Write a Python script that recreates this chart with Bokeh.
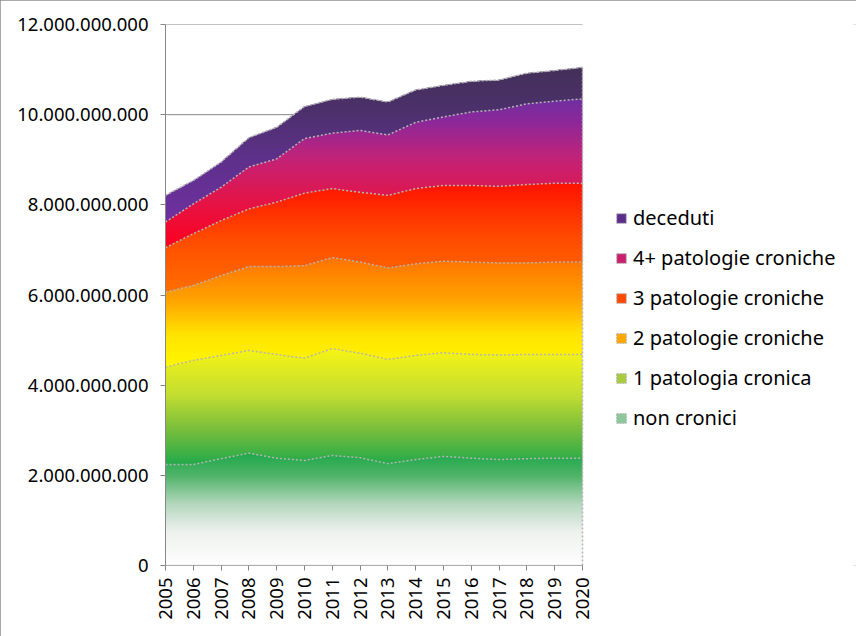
import numpy as np
from bokeh.plotting import figure
from bokeh.models import (Range1d, FixedTicker, CustomJSTickFormatter, Legend, LegendItem)
from bokeh.embed import file_html
from bokeh.resources import INLINE

# ---------------- data ----------------
years = [2005, 2006, 2007, 2008, 2009, 2010, 2011, 2012, 2013, 2014, 2015, 2016, 2017, 2018, 2019, 2020]

non_cronici = [2.24e9, 2.24e9, 2.37e9, 2.49e9, 2.38e9, 2.33e9, 2.44e9, 2.39e9,
               2.26e9, 2.35e9, 2.42e9, 2.38e9, 2.35e9, 2.37e9, 2.38e9, 2.38e9]
patologia_1 = [2.16e9, 2.31e9, 2.29e9, 2.28e9, 2.30e9, 2.27e9, 2.37e9, 2.32e9,
               2.31e9, 2.31e9, 2.30e9, 2.30e9, 2.32e9, 2.31e9, 2.30e9, 2.30e9]
patologie_2 = [1.66e9, 1.66e9, 1.77e9, 1.86e9, 1.95e9, 2.05e9, 2.02e9, 2.02e9,
               2.03e9, 2.03e9, 2.03e9, 2.05e9, 2.04e9, 2.03e9, 2.05e9, 2.05e9]
patologie_3 = [0.99e9, 1.15e9, 1.22e9, 1.28e9, 1.43e9, 1.61e9, 1.53e9, 1.55e9,
               1.61e9, 1.67e9, 1.68e9, 1.70e9, 1.70e9, 1.74e9, 1.75e9, 1.75e9]
patologie_4 = [0.57e9, 0.66e9, 0.74e9, 0.93e9, 0.96e9, 1.21e9, 1.23e9, 1.37e9,
               1.34e9, 1.47e9, 1.52e9, 1.63e9, 1.70e9, 1.79e9, 1.82e9, 1.87e9]
deceduti = [0.59e9, 0.52e9, 0.56e9, 0.65e9, 0.70e9, 0.71e9, 0.75e9, 0.74e9,
            0.73e9, 0.72e9, 0.70e9, 0.68e9, 0.66e9, 0.68e9, 0.68e9, 0.70e9]

series_names = ["non cronici", "1 patologia cronica", "2 patologie croniche",
                "3 patologie croniche", "4+ patologie croniche", "deceduti"]
y_ticks = [0, 2e9, 4e9, 6e9, 8e9, 10e9, 12e9]

# gradient stops (t from bottom to top of each series' bounding box)
gradients = [
    [(0.0, (255, 255, 255)), (0.3, (238, 242, 239)), (0.55, (180, 215, 190)), (0.8, (80, 180, 105)), (1.0, (30, 168, 75))],
    [(0.0, (34, 170, 75)), (0.3, (120, 190, 60)), (0.6, (195, 222, 50)), (1.0, (248, 245, 20))],
    [(0.0, (255, 248, 0)), (0.3, (255, 228, 0)), (0.6, (255, 165, 0)), (1.0, (255, 115, 0))],
    [(0.0, (255, 112, 0)), (0.5, (255, 75, 0)), (1.0, (255, 20, 0))],
    [(0.0, (255, 0, 30)), (0.3, (230, 20, 70)), (0.6, (195, 35, 120)), (0.85, (140, 40, 155)), (1.0, (112, 48, 160))],
    [(0.0, (112, 48, 160)), (0.4, (95, 48, 140)), (0.75, (75, 48, 105)), (1.0, (68, 48, 90))],
]
legend_colors = ["#8cc89c", "#a8cc40", "#ffa800", "#ff4a00", "#c8206c", "#5c2e8c"]

# ---------------- stacking ----------------
layers = np.array([non_cronici, patologia_1, patologie_2, patologie_3, patologie_4, deceduti])
upper = np.cumsum(layers, axis=0)
lower = np.vstack([np.zeros(len(years)), upper[:-1]])

# ---------------- gradient image ----------------
x0, x1 = years[0], years[-1]
y_max = y_ticks[-1]
nx, ny = 417, 541
xs = x0 + (np.arange(nx) + 0.5) * (x1 - x0) / nx
ys = (np.arange(ny) + 0.5) * y_max / ny
cum = np.array([np.interp(xs, years, u) for u in upper])  # (6, nx)
Y = ys[:, None]
layer_idx = np.zeros((ny, nx), dtype=int)
for k in range(len(upper)):
    layer_idx += (Y >= cum[k][None, :]).astype(int)

rgba = np.zeros((ny, nx, 4), dtype=np.uint8)
for k in range(len(upper)):
    bmin = lower[k].min()
    bmax = upper[k].max()
    t = np.clip((Y - bmin) / (bmax - bmin), 0, 1) * np.ones((1, nx))
    mask = layer_idx == k
    stops = gradients[k]
    ts = [s[0] for s in stops]
    for c in range(3):
        vals = [s[1][c] for s in stops]
        ch = np.interp(t, ts, vals)
        rgba[..., c][mask] = ch[mask].astype(np.uint8)
    rgba[..., 3][mask] = 255
img = rgba.view(dtype=np.uint32).reshape(ny, nx)

# ---------------- figure ----------------
# plot area spans 417 px for the 15 years; the frame continues to the right edge
# (691 px) to host the legend, so the x range is widened in the same proportion
FONT = "Noto Sans"
x_end = x0 + (x1 - x0) * 691 / 417
p = figure(width=856, height=636, x_range=Range1d(x0, x_end), y_range=Range1d(0, y_max),
           output_backend="svg", toolbar_location=None,
           min_border_left=165, min_border_right=0, min_border_top=24, min_border_bottom=71)
p.styles = {"outline": "3px solid #8c8c8c", "outline-offset": "-3px"}
p.outline_line_color = None
p.background_fill_color = "white"
p.border_fill_color = "white"

# horizontal gridlines limited to the data span (drawn first, hidden under the areas)
p.xgrid.grid_line_color = None
p.ygrid.grid_line_color = None
p.segment(x0=[x0] * len(y_ticks), y0=y_ticks, x1=[x1] * len(y_ticks), y1=y_ticks,
          line_color="#868686", line_width=1)

p.image_rgba(image=[img], x=x0, y=0, dw=x1 - x0, dh=y_max)

p.line([x0, x1], [0, 0], line_color="#868686", line_width=1)
LINE = dict(line_color="#b4b4b4", line_width=1.5, line_dash="2 2")
for k in range(len(upper)):
    p.line(years, upper[k], **LINE)
p.line(years, [0] * len(years), **LINE)
p.line([years[-1], years[-1]], [0, upper[-1][-1]], **LINE)

# axes
p.yaxis.ticker = FixedTicker(ticks=y_ticks)
p.yaxis.formatter = CustomJSTickFormatter(code="""
    return Math.round(tick).toString().replace(/\\B(?=(\\d{3})+(?!\\d))/g, ".");
""")
p.xaxis.ticker = FixedTicker(ticks=years)
p.xaxis.major_label_orientation = np.pi / 2
p.xaxis.axis_line_color = None
p.yaxis.axis_line_color = "#868686"
for ax in (p.xaxis[0], p.yaxis[0]):
    ax.major_tick_line_color = "#868686"
    ax.minor_tick_line_color = None
    ax.major_tick_in = 0
    ax.major_tick_out = 5
    ax.major_label_text_font = FONT
    ax.major_label_text_font_size = "18.5px"
    ax.major_label_text_color = "black"
p.yaxis.major_label_standoff = 12
p.xaxis.major_label_standoff = 7

# legend (proxy renderers with no visible data)
items = []
for k in reversed(range(len(upper))):
    r = p.quad(left=[np.nan], right=[np.nan], top=[np.nan], bottom=[np.nan],
               fill_color=legend_colors[k], line_color="#b4b4b4", line_dash="2 1", line_width=1)
    items.append(LegendItem(label=series_names[k], renderers=[r]))
legend = Legend(items=items, location=(450, 134), orientation="vertical",
                glyph_width=12, glyph_height=12, label_height=20, spacing=13,
                label_standoff=6, padding=0, margin=0,
                label_text_font=FONT, label_text_font_size="20px", label_text_color="black",
                border_line_color=None, background_fill_alpha=0)
p.add_layout(legend, "center")

open("out.html", "w").write(file_html(p, INLINE))
